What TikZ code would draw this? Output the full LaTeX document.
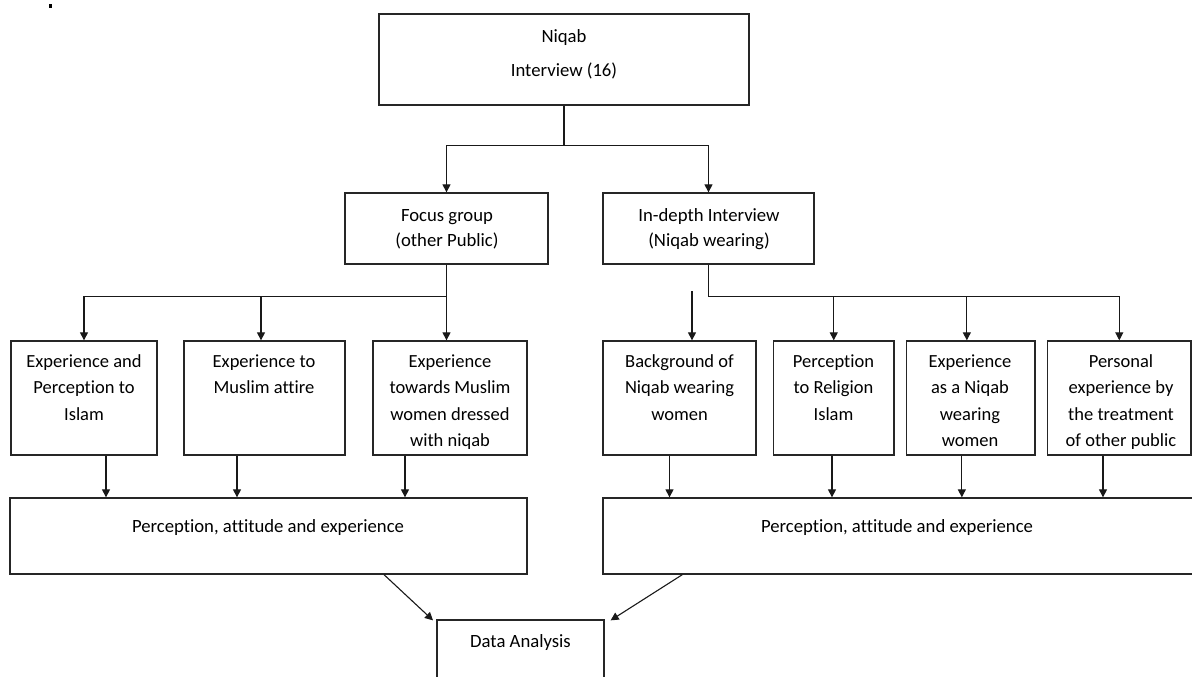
\documentclass[tikz,border=0pt]{standalone}
\usepackage{fontspec}
\setmainfont{Carlito}[Ligatures=NoCommon]
\usetikzlibrary{arrows.meta}
\begin{document}
\begin{tikzpicture}[x=1pt,y=-1pt,
  box/.style={draw=black!85, line width=1.3pt, inner sep=0pt},
  arr/.style={draw=black!90, line width=1.1pt, -{Triangle[length=8pt,width=8pt]}},
  ln/.style={draw=black!90, line width=1.1pt},
  txt/.style={anchor=north, inner sep=0pt, align=center, font=\fontsize{18.5}{26.5}\selectfont},
  one/.style={anchor=base, inner sep=0pt, font=\fontsize{18.7}{22}\selectfont},
  big/.style={anchor=base, inner sep=0pt, font=\fontsize{18.7}{22}\selectfont}]
\clip (0,0) rectangle (1192,677);
\useasboundingbox (0,0) rectangle (1192,677);
\fill[black] (49,4) rectangle (52,8);
% boxes
\node[box, minimum width=370pt, minimum height=91pt] (top) at (564,59.5) {};
\node[box, minimum width=203pt, minimum height=71pt] (fg) at (446.5,228.5) {};
\node[box, minimum width=211pt, minimum height=71pt] (id) at (708.5,228.5) {};
\node[box, minimum width=146pt, minimum height=114pt] (b1) at (84,398) {};
\node[box, minimum width=161pt, minimum height=114pt] (b2) at (264.5,398) {};
\node[box, minimum width=154pt, minimum height=114pt] (b3) at (450,398) {};
\node[box, minimum width=153pt, minimum height=114pt] (b4) at (679.5,398) {};
\node[box, minimum width=120.5pt, minimum height=114pt] (b5) at (833.75,398) {};
\node[box, minimum width=128.3pt, minimum height=114pt] (b6) at (970.85,398) {};
\node[box, minimum width=143.4pt, minimum height=114pt] (b7) at (1119.3,398) {};
\node[box, minimum width=517pt, minimum height=76pt] (pl) at (268.5,536) {};
\node[box, minimum width=596pt, minimum height=76pt] (pr) at (901,536) {};
\node[box, minimum width=167pt, minimum height=80pt] (da) at (520.5,660) {};
% texts
\node[one] (t1) at (564,43) {Niqab};
\node[one] (t2) at (564,77) {Interview (16)};
\node[one] (t3) at (447,221.5) {Focus group};
\node[one] (t4) at (447,246.5) {(other Public)};
\node[one] (t5) at (709,221.5) {In-depth Interview};
\node[one] (t6) at (709,246.5) {(Niqab wearing)};
\node[txt] (l1) at (84,348.5) {\strut Experience and\\Perception to\\Islam};
\node[txt] (l2) at (264,348.5) {\strut Experience to\\Muslim attire};
\node[txt] (l3) at (450,348.5) {\strut Experience\\towards Muslim\\women dressed\\with niqab};
\node[txt] (l4) at (679.5,348.5) {\strut Background of\\Niqab wearing\\women};
\node[txt] (l5) at (833.5,348.5) {\strut Perception\\to Religion\\Islam};
\node[txt] (l6) at (970,348.5) {\strut Experience\\as a Niqab\\wearing\\women};
\node[txt] (l7) at (1121,348.5) {\strut Personal\\experience by\\the treatment\\of other public};
\node[big] (p1) at (268,532.5) {Perception, attitude and experience};
\node[big] (p2) at (897,532.5) {Perception, attitude and experience};
\node[big] (d1) at (520.5,647.5) {Data Analysis};
% connectors top
\draw[ln] (top.south) -- ++(0,40) coordinate (j1);
\draw[arr] (j1) -| (fg.north);
\draw[arr] (j1) -| (id.north);
% focus group branch
\draw[ln] (fg.south) -- ++(0,32) coordinate (j2);
\draw[arr] (j2) -| (b1.north);
\draw[arr] (j2) -| ([xshift=-3.5pt]b2.north);
\draw[arr] (j2) -- (j2 |- b3.north);
% in-depth branch
\draw[ln] (id.south) -- ++(0,32) coordinate (j3);
\draw[arr] (j3) -| (b7.north);
\draw[arr] (b5.north |- j3) -- (b5.north);
\draw[arr] ([xshift=-4pt]b6.north |- j3) -- ([xshift=-4pt]b6.north);
\coordinate (f4) at ([xshift=12.5pt,yshift=49pt]b4.north);
\draw[arr] (f4) -- ([xshift=12.5pt]b4.north);
% down to summary boxes
\draw[arr] ([xshift=22pt]b1.south) -- ([xshift=22pt]b1.south |- pl.north);
\draw[arr] ([xshift=-27.5pt]b2.south) -- ([xshift=-27.5pt]b2.south |- pl.north);
\draw[arr] ([xshift=-45pt]b3.south) -- ([xshift=-45pt]b3.south |- pl.north);
\draw[arr] ([xshift=-10pt]b4.south) -- ([xshift=-10pt]b4.south |- pr.north);
\draw[arr] ([xshift=-1.75pt]b5.south) -- ([xshift=-1.75pt]b5.south |- pr.north);
\draw[arr] ([xshift=-9pt]b6.south) -- ([xshift=-9pt]b6.south |- pr.north);
\draw[arr] ([xshift=-16.3pt]b7.south) -- ([xshift=-16.3pt]b7.south |- pr.north);
% to data analysis
\draw[arr] ([xshift=115.5pt]pl.south) -- ([xshift=-87.5pt,yshift=-1pt]da.north);
\draw[arr] ([xshift=80pt]pr.south west) -- ([xshift=6pt,yshift=-1pt]da.north east);
\end{tikzpicture}
\end{document}
